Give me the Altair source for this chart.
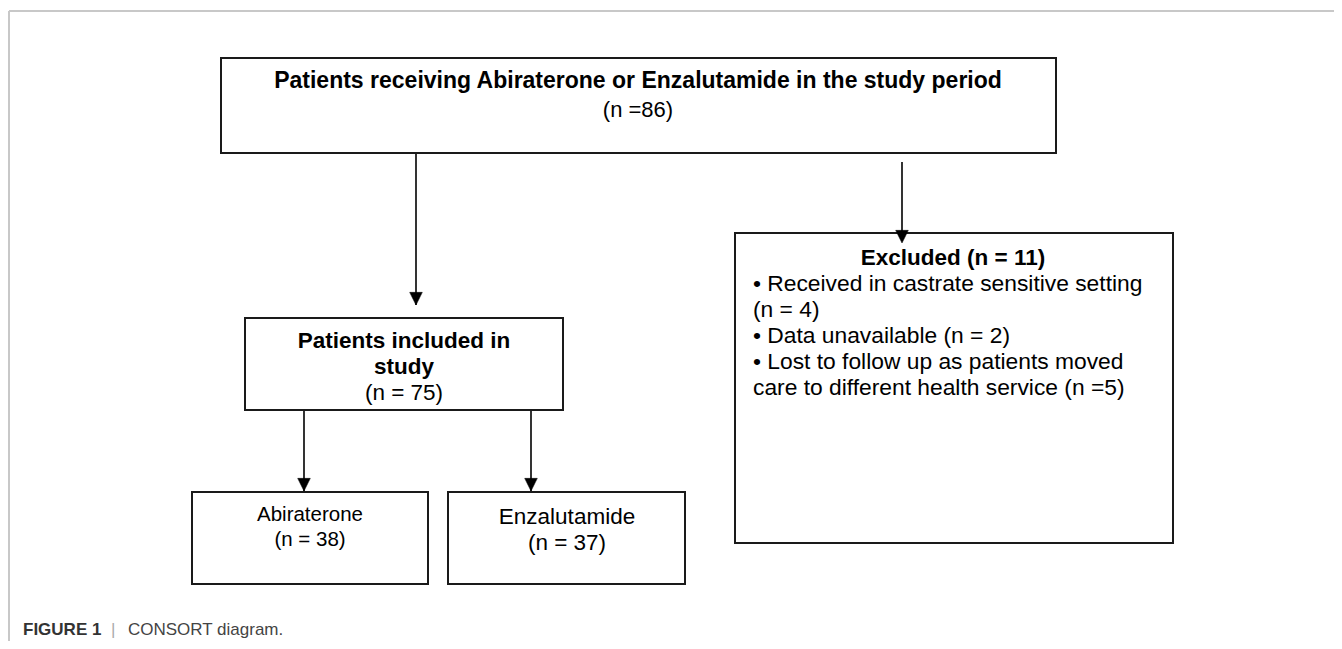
import altair as alt
import pandas as pd

# ---- diagram data (page pixel coordinates) ----
box_x1 = [221, 245, 192, 448, 735]
box_x2 = [1056, 563, 428, 685, 1173]
box_y1 = [58, 318, 492, 492, 233]
box_y2 = [153, 410, 584, 584, 543]

link_x = [416, 902, 304, 531]
link_y1 = [153, 162, 410, 410]
link_y2 = [305, 243, 491, 491]

frame_x1 = [9, 9]
frame_x2 = [1342, 9]
frame_y1 = [11, 11]
frame_y2 = [11, 649]

texts = [
    "Patients receiving Abiraterone or Enzalutamide in the study period",
    "(n =86)",
    "Patients included in",
    "study",
    "(n = 75)",
    "Abiraterone",
    "(n = 38)",
    "Enzalutamide",
    "(n = 37)",
    "Excluded (n = 11)",
    "\u2022 Received in castrate sensitive setting",
    "(n = 4)",
    "\u2022 Data unavailable (n = 2)",
    "\u2022 Lost to follow up as patients moved",
    "care to different health service (n =5)",
]
text_x = [638, 638, 404, 404, 404, 310, 310, 567, 567, 953, 753, 753, 753, 753, 753]
text_y = [81, 110, 341, 367, 393, 515, 540, 517, 543, 258, 284, 310, 336, 362, 388]
text_size = [23, 22, 22.5, 22.5, 22.5, 20.5, 20.5, 22.5, 22.5, 22.5, 22.8, 22.8, 22.8, 22.8, 22.8]
text_bold = [1, 0, 1, 1, 0, 0, 0, 0, 0, 1, 0, 0, 0, 0, 0]
text_align = ["center"] * 10 + ["left"] * 5

cap_text = ["FIGURE 1", "|", "CONSORT diagram."]
cap_x = [23, 111, 128]
cap_y = [630, 630, 630]
cap_bold = [1, 0, 0]
cap_color = ["#333333", "#aaaaaa", "#444444"]

W, H = 1326, 633
xs = alt.Scale(domain=[8, 8 + W])
ys = alt.Scale(domain=[8, 8 + H], reverse=True)

boxes = pd.DataFrame({"x1": box_x1, "x2": box_x2, "y1": box_y1, "y2": box_y2})
links = pd.DataFrame({"x": link_x, "y1": link_y1, "y2": link_y2})
frame = pd.DataFrame({"x1": frame_x1, "x2": frame_x2, "y1": frame_y1, "y2": frame_y2})
tdf = pd.DataFrame({"t": texts, "x": text_x, "y": text_y, "s": text_size,
                    "b": text_bold, "a": text_align})
cdf = pd.DataFrame({"t": cap_text, "x": cap_x, "y": cap_y, "b": cap_bold, "c": cap_color})

frame_layer = alt.Chart(frame).mark_rule(color="#c8c8c8", strokeWidth=2).encode(
    x=alt.X("x1:Q", scale=xs, axis=None), x2="x2:Q",
    y=alt.Y("y1:Q", scale=ys, axis=None), y2="y2:Q")

box_layer = alt.Chart(boxes).mark_rect(fill="white", stroke="#1a1a1a", strokeWidth=2).encode(
    x=alt.X("x1:Q", scale=xs, axis=None), x2="x2:Q",
    y=alt.Y("y1:Q", scale=ys, axis=None), y2="y2:Q")

link_layer = alt.Chart(links).mark_rule(color="black", strokeWidth=1.6).encode(
    x=alt.X("x:Q", scale=xs, axis=None),
    y=alt.Y("y1:Q", scale=ys, axis=None), y2="y2:Q")

arrow_layer = alt.Chart(links).mark_point(
    shape="M-1,-2L1,-2L0,0Z", filled=True, fill="black", stroke="black",
    strokeWidth=0.5, opacity=1, size=160).encode(
    x=alt.X("x:Q", scale=xs, axis=None),
    y=alt.Y("y2:Q", scale=ys, axis=None))

def text_layer(df, align, bold):
    sub = df[(df["a"] == align) & (df["b"] == bold)]
    return alt.Chart(sub).mark_text(
        font="Liberation Sans", align=align, baseline="middle", color="black",
        fontWeight="bold" if bold else "normal").encode(
        x=alt.X("x:Q", scale=xs, axis=None),
        y=alt.Y("y:Q", scale=ys, axis=None),
        text="t:N",
        size=alt.Size("s:Q", scale=None, legend=None))

t_layers = [text_layer(tdf, a, b) for a in ["center", "left"] for b in [0, 1]]

cap_layers = []
for b in [0, 1]:
    sub = cdf[cdf["b"] == b]
    cap_layers.append(alt.Chart(sub).mark_text(
        font="Liberation Sans", align="left", baseline="middle", fontSize=17,
        fontWeight="bold" if b else "normal").encode(
        x=alt.X("x:Q", scale=xs, axis=None),
        y=alt.Y("y:Q", scale=ys, axis=None),
        text="t:N",
        color=alt.Color("c:N", scale=None, legend=None)))

chart = alt.layer(frame_layer, link_layer, box_layer, arrow_layer, *t_layers, *cap_layers).properties(
    width=W, height=H,
    autosize=alt.AutoSizeParams(type="none"),
    padding=0,
).configure_view(stroke=None)

chart.save("out.html", embed_options={"renderer": "svg", "actions": False})
